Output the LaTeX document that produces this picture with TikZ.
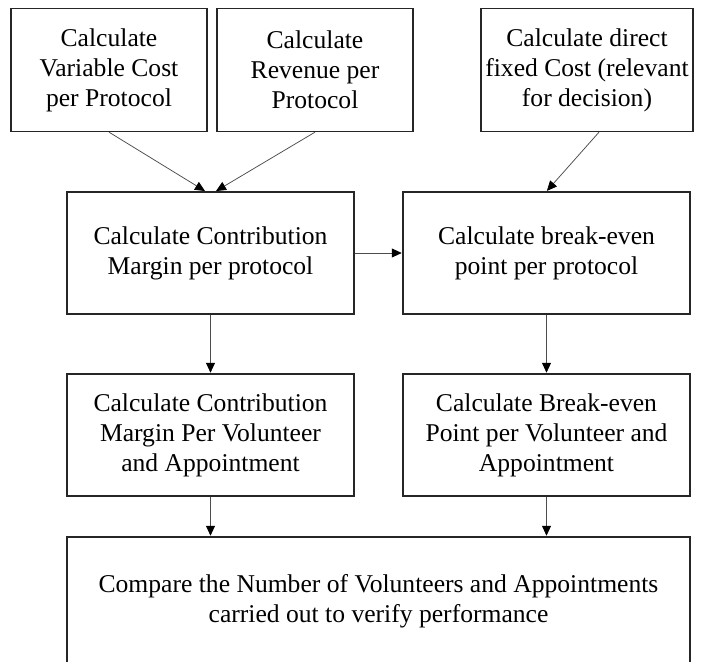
\documentclass[tikz,border=0pt]{standalone}
\usepackage{fontspec}
\setmainfont{Liberation Serif}
\usetikzlibrary{arrows.meta}
\tikzset{
  stepbox/.style={draw=black!85, line width=1.3pt, align=center, inner sep=0pt,
    font=\fontsize{25.6}{30}\selectfont},
  conn/.style={draw=black!70, line width=0.75pt, -{Triangle[length=10pt,width=9pt,color=black]}, shorten >=0.6pt}
}
\begin{document}
\begin{tikzpicture}[x=1pt,y=-1pt]
\useasboundingbox (0,0) rectangle (708,661);
\fill[white] (0,0) rectangle (708,661);
\node[stepbox, minimum width=196pt, minimum height=123pt] (b1) at (109,70)
  {Calculate\\Variable Cost\\per Protocol};
\node[stepbox, minimum width=196pt, minimum height=123pt] (b2) at (315,70)
  {Calculate\\Revenue per\\Protocol};
\node[stepbox, minimum width=212pt, minimum height=123pt] (b3) at (587,70)
  {Calculate direct\\fixed Cost (relevant\\for decision)};
\node[stepbox, minimum width=287pt, minimum height=122pt] (b4) at (210.5,253)
  {Calculate Contribution\\Margin per protocol};
\node[stepbox, minimum width=287pt, minimum height=122pt] (b5) at (546.5,253)
  {Calculate break-even\\point per protocol};
\node[stepbox, minimum width=287pt, minimum height=122pt] (b6) at (210.5,435)
  {Calculate Contribution\\Margin Per Volunteer\\and Appointment};
\node[stepbox, minimum width=287pt, minimum height=122pt] (b7) at (546.5,435)
  {Calculate Break-even\\Point per Volunteer and\\Appointment};
\node[stepbox, minimum width=623pt, minimum height=129pt] (b8) at (378.5,601.5)
  {Compare the Number of Volunteers and Appointments\\carried out to verify performance};
\draw[conn] (b1.south) -- ([xshift=-5pt]b4.north);
\draw[conn] (b2.south) -- ([xshift=5pt]b4.north);
\draw[conn] ([xshift=12pt]b3.south) -- (b5.north);
\draw[conn] (b4.east) -- (b5.west);
\draw[conn] (b4.south) -- (b6.north);
\draw[conn] (b5.south) -- (b7.north);
\draw[conn] (b6.south) -- (b8.north -| b6.south);
\draw[conn] (b7.south) -- (b8.north -| b7.south);
\end{tikzpicture}
\end{document}
